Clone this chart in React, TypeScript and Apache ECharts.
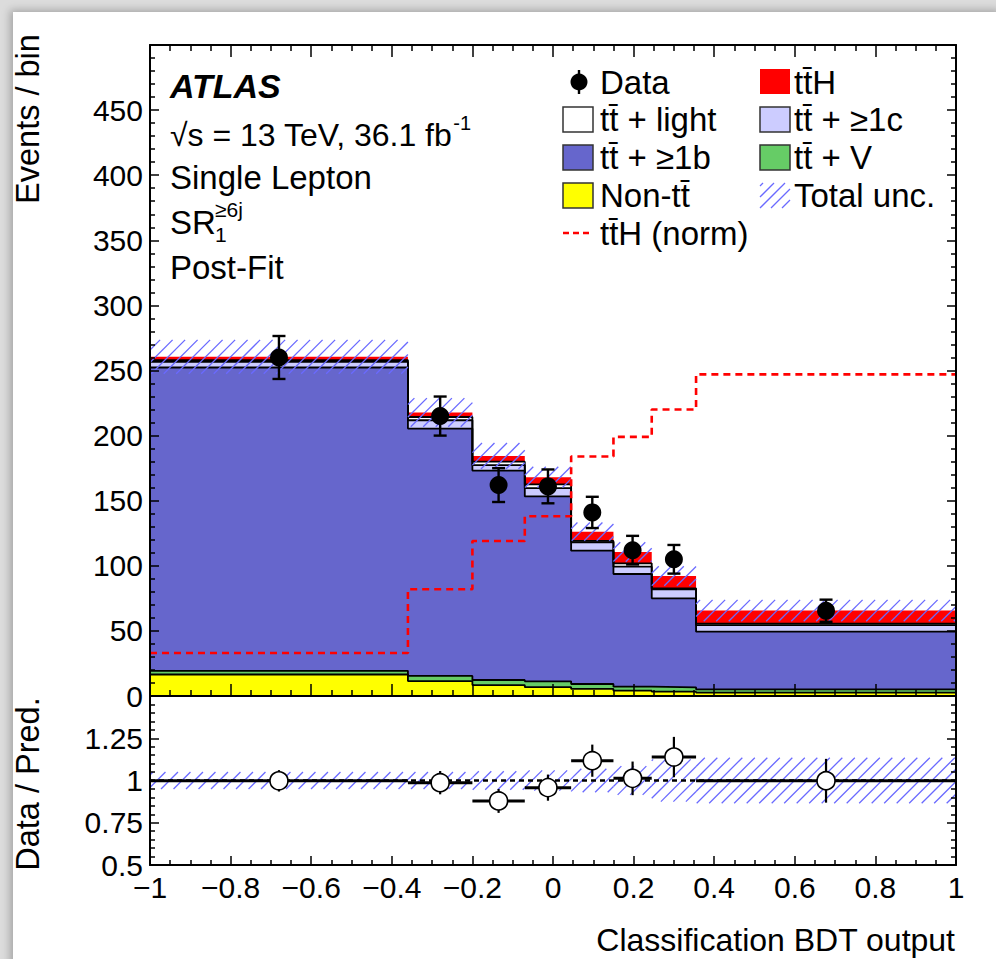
import React, { useEffect, useRef } from "react";
import * as echarts from "echarts";

// ---------------- data ----------------
const binEdges = [-1, -0.36, -0.2, -0.07, 0.045, 0.15, 0.245, 0.355, 1];
const nonTtbar = [16.5, 11.5, 8.4, 6.8, 5.4, 4.1, 3.3, 2.6];
const ttV = [2.8, 3.9, 3.9, 4.5, 3.8, 3.1, 3.4, 2.5];
const tt1b = [233, 190, 160.8, 142, 102.4, 86.5, 68.3, 44.3];
const tt1c = [4.4, 6.4, 4.3, 6.4, 6.5, 5.6, 7, 5];
const ttLight = [1.3, 2.5, 2.6, 2.8, 1, 2.6, 0.7, 1.2];
const ttH = [2.5, 3.5, 4.3, 5.6, 7.1, 8.7, 9.5, 10];
const ttHNorm = [33, 82, 119, 138, 184, 199, 220, 247];
const dataValues = [260, 215, 162, 161, 141, 112, 105, 65.5];
const dataErrors = [16.5, 15, 13, 13, 12, 11, 11, 8.5];
const totalUnc = [13, 11, 10, 8, 7, 7.5, 7.5, 8.2];
const ratioUnc = [0.05, 0.05, 0.055, 0.06, 0.07, 0.085, 0.125, 0.135];

const FONT = "'Liberation Sans', Arial, Helvetica, sans-serif";
const HATCH = "#6a6aff";

const layers = [
  { name: "Non-tt", vals: nonTtbar, color: "#ffff00", line: "#000" },
  { name: "ttV", vals: ttV, color: "#66cc66", line: "#000" },
  { name: "tt1b", vals: tt1b, color: "#6666cc", line: "#000" },
  { name: "tt1c", vals: tt1c, color: "#ccccff", line: "#000" },
  { name: "ttlight", vals: ttLight, color: "#ffffff", line: "#000" },
  { name: "ttH", vals: ttH, color: "#ff0000", line: "#ff0000" },
];

function stepPoints(vals: number[]) {
  const pts: number[][] = [];
  vals.forEach((v, i) => {
    pts.push([binEdges[i], v]);
    pts.push([binEdges[i + 1], v]);
  });
  return pts;
}

function hatchLines(x0: number, y0: number, x1: number, y1: number, s: number, stroke: string, lw: number) {
  const out: any[] = [];
  const cStart = Math.ceil((x0 + y0) / s) * s;
  for (let c = cStart; c <= x1 + y1; c += s) {
    const xa = Math.max(x0, c - y1);
    const xb = Math.min(x1, c - y0);
    if (xb - xa > 0.5) {
      out.push({
        type: "line",
        shape: { x1: xa, y1: c - xa, x2: xb, y2: c - xb },
        style: { stroke, lineWidth: lw },
      });
    }
  }
  return out;
}

const hatchRender = (params: any, api: any) => {
  const lo = api.value(0), hi = api.value(1), b = api.value(2), t = api.value(3);
  const p0 = api.coord([lo, t]);
  const p1 = api.coord([hi, b]);
  return { type: "group", children: hatchLines(p0[0], p0[1], p1[0], p1[1], 12.5, HATCH, 1.3) };
};

const errRender = (params: any, api: any) => {
  const x = api.value(0), y = api.value(1), e = api.value(2);
  const top = api.coord([x, y + e]);
  const bot = api.coord([x, y - e]);
  const cap = 6.5;
  const st = { stroke: "#000", lineWidth: 2.4 };
  return {
    type: "group",
    children: [
      { type: "line", shape: { x1: top[0], y1: top[1], x2: bot[0], y2: bot[1] }, style: st },
      { type: "line", shape: { x1: top[0] - cap, y1: top[1], x2: top[0] + cap, y2: top[1] }, style: st },
      { type: "line", shape: { x1: bot[0] - cap, y1: bot[1], x2: bot[0] + cap, y2: bot[1] }, style: st },
    ],
  };
};

const ratioErrRender = (params: any, api: any) => {
  const lo = api.value(0), hi = api.value(1), r = api.value(2), e = api.value(3);
  const a = api.coord([lo, r]);
  const b = api.coord([hi, r]);
  const c = (lo + hi) / 2;
  const t = api.coord([c, r + e]);
  const d = api.coord([c, r - e]);
  return {
    type: "group",
    children: [
      { type: "line", shape: { x1: a[0], y1: a[1], x2: b[0], y2: b[1] }, style: { stroke: "#000", lineWidth: 3 } },
      { type: "line", shape: { x1: t[0], y1: t[1], x2: d[0], y2: d[1] }, style: { stroke: "#000", lineWidth: 2.2 } },
    ],
  };
};

export default function App() {
  const ref = useRef<HTMLDivElement>(null);

  useEffect(() => {
    if (!ref.current) return;
    const chart = echarts.init(ref.current, undefined, { renderer: "svg" });

    const nb = binEdges.length - 1;
    const cumul: number[][] = [];
    let run = new Array(nb).fill(0);
    layers.forEach((l) => {
      run = run.map((v, i) => v + l.vals[i]);
      cumul.push(run.slice());
    });
    const total = cumul[cumul.length - 1];
    const centers = binEdges.slice(0, nb).map((e, i) => (e + binEdges[i + 1]) / 2);

    const stackSeries: any[] = [];
    for (let k = layers.length - 1; k >= 0; k--) {
      stackSeries.push({
        type: "line",
        xAxisIndex: 0,
        yAxisIndex: 0,
        data: stepPoints(cumul[k]),
        symbol: "none",
        showSymbol: false,
        silent: true,
        z: 2,
        lineStyle: { color: layers[k].line, width: layers[k].line === "#000" ? 1.8 : 0 },
        areaStyle: { color: layers[k].color, opacity: 1 },
      });
    }

    const mainHatch = total.map((t, i) => [binEdges[i], binEdges[i + 1], t - totalUnc[i], t + totalUnc[i]]);
    const ratioHatch = total.map((t, i) => [binEdges[i], binEdges[i + 1], 1 - ratioUnc[i], 1 + ratioUnc[i]]);
    const ratioVals = dataValues.map((d, i) => d / total[i]);
    const ratioErrs = dataErrors.map((e, i) => e / total[i]);

    const xTickCommon = {
      type: "value",
      min: -1,
      max: 1,
      interval: 0.2,
      z: 10,
      axisLine: { show: true, onZero: false, lineStyle: { color: "#000", width: 2 } },
      axisTick: { show: true, inside: true, length: 12, lineStyle: { color: "#000", width: 1.5 } },
      minorTick: { show: true, splitNumber: 4, length: 6, lineStyle: { color: "#000", width: 1.5 } },
      splitLine: { show: false },
      minorSplitLine: { show: false },
    };
    const yTickCommon = {
      type: "value",
      z: 10,
      axisLine: { show: true, onZero: false, lineStyle: { color: "#000", width: 2 } },
      axisTick: { show: true, inside: true, length: 9, lineStyle: { color: "#000", width: 1.5 } },
      minorTick: { show: true, splitNumber: 5, length: 5, lineStyle: { color: "#000", width: 1.5 } },
      splitLine: { show: false },
      minorSplitLine: { show: false },
    };
    const labelStyle = { color: "#000", fontSize: 30, fontFamily: FONT };

    const txt = (text: string, x: number, y: number, size: number, extra: any = {}) => ({
      type: "text",
      x,
      y,
      silent: true,
      z: 20,
      style: {
        text,
        fill: "#000",
        fontStyle: extra.italic ? "italic" : "normal",
        fontWeight: extra.weight || "normal",
        fontSize: size,
        fontFamily: FONT,
        align: extra.align || "left",
        verticalAlign: "middle",
      },
      rotation: extra.rotation || 0,
    });
    const box = (x: number, y: number, fill: string) => ({
      type: "rect",
      z: 20,
      shape: { x, y, width: 30, height: 25 },
      style: { fill, stroke: "#333", lineWidth: 1.5 },
    });

    const LF = 33;
    const graphic: any[] = [
      txt("ATLAS", 170, 86, 34, { italic: true, weight: "bold" }),
      {
        type: "text",
        x: 170,
        y: 132,
        z: 20,
        style: {
          text: "{a|√s = 13 TeV, 36.1 fb}{s|-1}",
          verticalAlign: "middle",
          rich: {
            a: { fontSize: 32, fontFamily: FONT, fill: "#000", lineHeight: 38, verticalAlign: "bottom" },
            s: { fontSize: 20, fontFamily: FONT, fill: "#000", lineHeight: 38, verticalAlign: "top", padding: [0, 0, 0, 1] },
          },
        },
      },
      txt("Single Lepton", 170, 177, 33),
      txt("SR", 170, 222, 33),
      txt("≥6j", 215, 209, 21),
      txt("1", 215, 234, 21),
      txt("Post-Fit", 170, 267, 33),
      txt("Events / bin", 28, 119, 32.5, { align: "center", rotation: Math.PI / 2 }),
      txt("Data / Pred.", 28, 784, 32.5, { align: "center", rotation: Math.PI / 2 }),
      txt("Classification BDT output", 955, 940, 32, { align: "right" }),
      // legend
      { type: "line", z: 20, shape: { x1: 579, y1: 70, x2: 579, y2: 94 }, style: { stroke: "#000", lineWidth: 2.4 } },
      { type: "circle", z: 21, shape: { cx: 579, cy: 82, r: 8.5 }, style: { fill: "#000" } },
      txt("Data", 600, 82, LF),
      box(563, 107, "#ffffff"),
      txt("tt\u0304 + light", 600, 119, LF),
      box(563, 145, "#6666cc"),
      txt("tt\u0304 + ≥1b", 600, 157, LF),
      box(563, 183, "#ffff00"),
      txt("Non-tt\u0304", 600, 195, LF),
      { type: "line", z: 20, shape: { x1: 563, y1: 233, x2: 592, y2: 233 }, style: { stroke: "#ff0000", lineWidth: 2.5, lineDash: [6, 4] } },
      txt("tt\u0304H (norm)", 600, 233, LF),
      { type: "rect", z: 20, shape: { x: 760, y: 69, width: 30, height: 25 }, style: { fill: "#ff0000" } },
      txt("tt\u0304H", 794, 82, LF),
      box(760, 107, "#ccccff"),
      txt("tt\u0304 + ≥1c", 794, 119, LF),
      box(760, 145, "#66cc66"),
      txt("tt\u0304 + V", 794, 157, LF),
      { type: "group", z: 20, children: hatchLines(760, 183, 790, 208, 11, HATCH, 1.3) },
      txt("Total unc.", 794, 195, LF),
    ];

    const option: any = {
      animation: false,
      backgroundColor: "transparent",
      textStyle: { fontFamily: FONT },
      grid: [
        { left: 150, top: 45, width: 806, height: 651 },
        { left: 150, top: 696, width: 806, height: 169 },
      ],
      xAxis: [
        { ...xTickCommon, gridIndex: 0, position: "bottom", axisLabel: { show: false } },
        { ...xTickCommon, gridIndex: 0, position: "top", axisLabel: { show: false } },
        {
          ...xTickCommon,
          gridIndex: 1,
          position: "bottom",
          axisTick: { ...xTickCommon.axisTick, length: 9 },
          minorTick: { ...xTickCommon.minorTick, length: 5 },
          axisLabel: {
            ...labelStyle,
            margin: 7,
            formatter: (v: number) => String(+v.toFixed(2)).replace("-", "\u2212"),
          },
        },
        {
          ...xTickCommon,
          gridIndex: 1,
          position: "top",
          axisTick: { show: false },
          minorTick: { show: false },
          axisLabel: { show: false },
        },
      ],
      yAxis: [
        {
          ...yTickCommon,
          gridIndex: 0,
          position: "left",
          min: 0,
          max: 500,
          interval: 50,
          axisLabel: { ...labelStyle, margin: 7, formatter: (v: number) => (v >= 500 ? "" : String(v)) },
        },
        { ...yTickCommon, gridIndex: 0, position: "right", min: 0, max: 500, interval: 50, axisLabel: { show: false } },
        {
          ...yTickCommon,
          gridIndex: 1,
          position: "left",
          min: 0.5,
          max: 1.5,
          interval: 0.25,
          axisLabel: { ...labelStyle, margin: 7, formatter: (v: number) => (v >= 1.5 ? "" : String(+v.toFixed(2))) },
        },
        { ...yTickCommon, gridIndex: 1, position: "right", min: 0.5, max: 1.5, interval: 0.25, axisLabel: { show: false } },
      ],
      series: [
        ...stackSeries,
        {
          type: "custom",
          xAxisIndex: 0,
          yAxisIndex: 0,
          z: 3,
          silent: true,
          renderItem: hatchRender,
          encode: { x: [0, 1], y: [2, 3] },
          data: mainHatch,
        },
        {
          type: "line",
          xAxisIndex: 0,
          yAxisIndex: 0,
          z: 4,
          silent: true,
          symbol: "none",
          data: stepPoints(ttHNorm),
          lineStyle: { color: "#ff0000", width: 2.6, type: [7, 5] },
        },
        {
          type: "custom",
          xAxisIndex: 0,
          yAxisIndex: 0,
          z: 5,
          silent: true,
          renderItem: errRender,
          encode: { x: 0, y: 1 },
          data: centers.map((c, i) => [c, dataValues[i], dataErrors[i]]),
        },
        {
          type: "scatter",
          xAxisIndex: 0,
          yAxisIndex: 0,
          z: 6,
          silent: true,
          symbol: "circle",
          symbolSize: 18,
          itemStyle: { color: "#000", opacity: 1 },
          data: centers.map((c, i) => [c, dataValues[i]]),
        },
        // ratio panel
        {
          type: "custom",
          xAxisIndex: 2,
          yAxisIndex: 2,
          z: 2,
          silent: true,
          renderItem: hatchRender,
          encode: { x: [0, 1], y: [2, 3] },
          data: ratioHatch,
        },
        {
          type: "line",
          xAxisIndex: 2,
          yAxisIndex: 2,
          z: 3,
          silent: true,
          symbol: "none",
          data: [[-1, 1], [1, 1]],
          lineStyle: { color: "#000", width: 2.5, type: [5, 4] },
        },
        {
          type: "custom",
          xAxisIndex: 2,
          yAxisIndex: 2,
          z: 4,
          silent: true,
          renderItem: ratioErrRender,
          encode: { x: [0, 1], y: 2 },
          data: ratioVals.map((r, i) => [binEdges[i], binEdges[i + 1], r, ratioErrs[i]]),
        },
        {
          type: "scatter",
          xAxisIndex: 2,
          yAxisIndex: 2,
          z: 5,
          silent: true,
          symbol: "circle",
          symbolSize: 18,
          itemStyle: { color: "#fff", borderColor: "#000", borderWidth: 1.6, opacity: 1 },
          data: centers.map((c, i) => [c, ratioVals[i]]),
        },
      ],
      graphic,
    };

    chart.setOption(option);
    return () => chart.dispose();
  }, []);

  return (
    <div style={{ position: "fixed", left: 0, top: 0, width: 996, height: 959, background: "#dcdcdc", overflow: "hidden" }}>
      <div
        style={{
          position: "absolute",
          left: 13,
          top: 12,
          width: 990,
          height: 960,
          background: "#fff",
          boxShadow: "-3px -2px 8px rgba(0,0,0,0.25)",
        }}
      />
      <div ref={ref} style={{ position: "absolute", left: 0, top: 0, width: 996, height: 959 }} />
    </div>
  );
}
